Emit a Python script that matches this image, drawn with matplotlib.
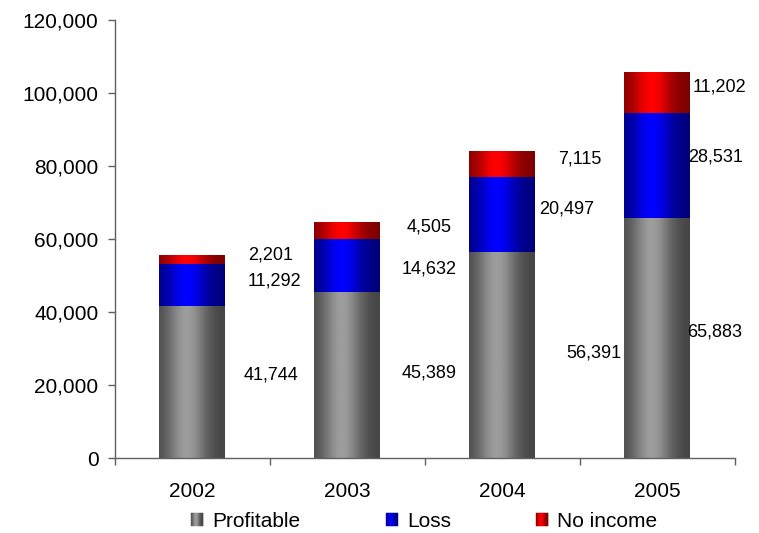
import numpy as np
import matplotlib
matplotlib.use("Agg")
import matplotlib.pyplot as plt
from matplotlib.colors import LinearSegmentedColormap
from matplotlib.patches import Rectangle
from matplotlib.legend_handler import HandlerBase
from matplotlib.ticker import FuncFormatter, FixedLocator

plt.rcParams["font.family"] = ["Liberation Sans", "DejaVu Sans"]

# ---- data -------------------------------------------------------------
years = ["2002", "2003", "2004", "2005"]
profitable = [41744, 45389, 56391, 65883]
loss = [11292, 14632, 20497, 28531]
no_income = [2201, 4505, 7115, 11202]
series_names = ["Profitable", "Loss", "No income"]

# ---- label placement (x offset from bar centre, y in data units) -------
label_pos = {
    "Profitable": [(0.51, 22740), (0.53, 23290), (0.59, 28770), (0.37, 34520)],
    "Loss":       [(0.53, 48490), (0.53, 51780), (0.42, 68220), (0.38, 82470)],
    "No income":  [(0.51, 55620), (0.53, 63290), (0.50, 81920), (0.40, 101640)],
}

# ---- cylinder-like horizontal shading ---------------------------------
shades = {
    "Profitable": ("#444444", "#9d9d9d"),
    "Loss": ("#00007a", "#0000ff"),
    "No income": ("#7a0000", "#ff0000"),
}


def profile(t):
    return np.exp(-((t - 0.42) / 0.30) ** 2)


cmaps = {k: LinearSegmentedColormap.from_list(k, [d, l]) for k, (d, l) in shades.items()}
grad = profile(np.linspace(0, 1, 256)).reshape(1, -1)


class GradientHandler(HandlerBase):
    def __init__(self, cmap):
        super().__init__()
        self.cmap = cmap

    def create_artists(self, legend, orig_handle, xdescent, ydescent,
                       width, height, fontsize, trans):
        n = 16
        arts = []
        for i in range(n):
            c = self.cmap(profile((i + 0.5) / n))
            r = Rectangle((-xdescent + i * width / n, -ydescent), width / n, height,
                          facecolor=c, edgecolor=c, lw=0.3, transform=trans)
            arts.append(r)
        return arts


fig = plt.figure(figsize=(7.59, 5.33), dpi=100)
ax = fig.add_axes([114.5 / 759, 75 / 533, 620 / 759, 438 / 533])

x = np.arange(len(years))
bar_w = 0.42
bottom = np.zeros(len(years))
handles = []
for name, vals in zip(series_names, [profitable, loss, no_income]):
    bars = ax.bar(x, vals, bar_w, bottom=bottom, color="none", lw=0, label=name)
    for patch in bars:
        x0, y0 = patch.get_x(), patch.get_y()
        ax.imshow(grad, extent=[x0, x0 + patch.get_width(), y0, y0 + patch.get_height()],
                  aspect="auto", cmap=cmaps[name], vmin=0, vmax=1,
                  interpolation="bilinear", zorder=2)
    for i, v in enumerate(vals):
        dx, ly = label_pos[name][i]
        ax.text(x[i] + dx, ly, f"{v:,}", ha="center", va="center", fontsize=13, color="black")
    handles.append(Rectangle((0, 0), 1, 1, label=name))
    bottom = bottom + np.array(vals)

ax.set_xlim(-0.5, 3.5)
ax.set_ylim(0, 120000)

for s in ["top", "right"]:
    ax.spines[s].set_visible(False)
for s in ["left", "bottom"]:
    ax.spines[s].set_color("#606060")
    ax.spines[s].set_linewidth(1.0)

ax.set_yticks(np.arange(0, 120001, 20000))
ax.yaxis.set_major_formatter(FuncFormatter(lambda v, p: f"{int(v):,}"))
ax.tick_params(axis="y", direction="out", length=5, width=1, color="#606060",
               labelsize=15, pad=6.5)

ax.xaxis.set_major_locator(FixedLocator(np.arange(-0.5, 3.6, 1.0)))
ax.xaxis.set_major_formatter(FuncFormatter(lambda v, p: ""))
ax.xaxis.set_minor_locator(FixedLocator(x))
ax.set_xticklabels(years, minor=True)
ax.tick_params(axis="x", which="major", direction="out", length=5, width=1, color="#606060")
ax.tick_params(axis="x", which="minor", length=0, labelsize=15, pad=17.5)

fig.legend(handles=handles, labels=series_names,
           handler_map={h: GradientHandler(cmaps[n]) for h, n in zip(handles, series_names)},
           loc="center", bbox_to_anchor=(0.559, 0.022), ncol=3, frameon=False,
           fontsize=15, handlelength=0.58, handleheight=0.58, handletextpad=0.43,
           columnspacing=4.1, borderpad=0.0)

fig.savefig("out.png", dpi=100)
